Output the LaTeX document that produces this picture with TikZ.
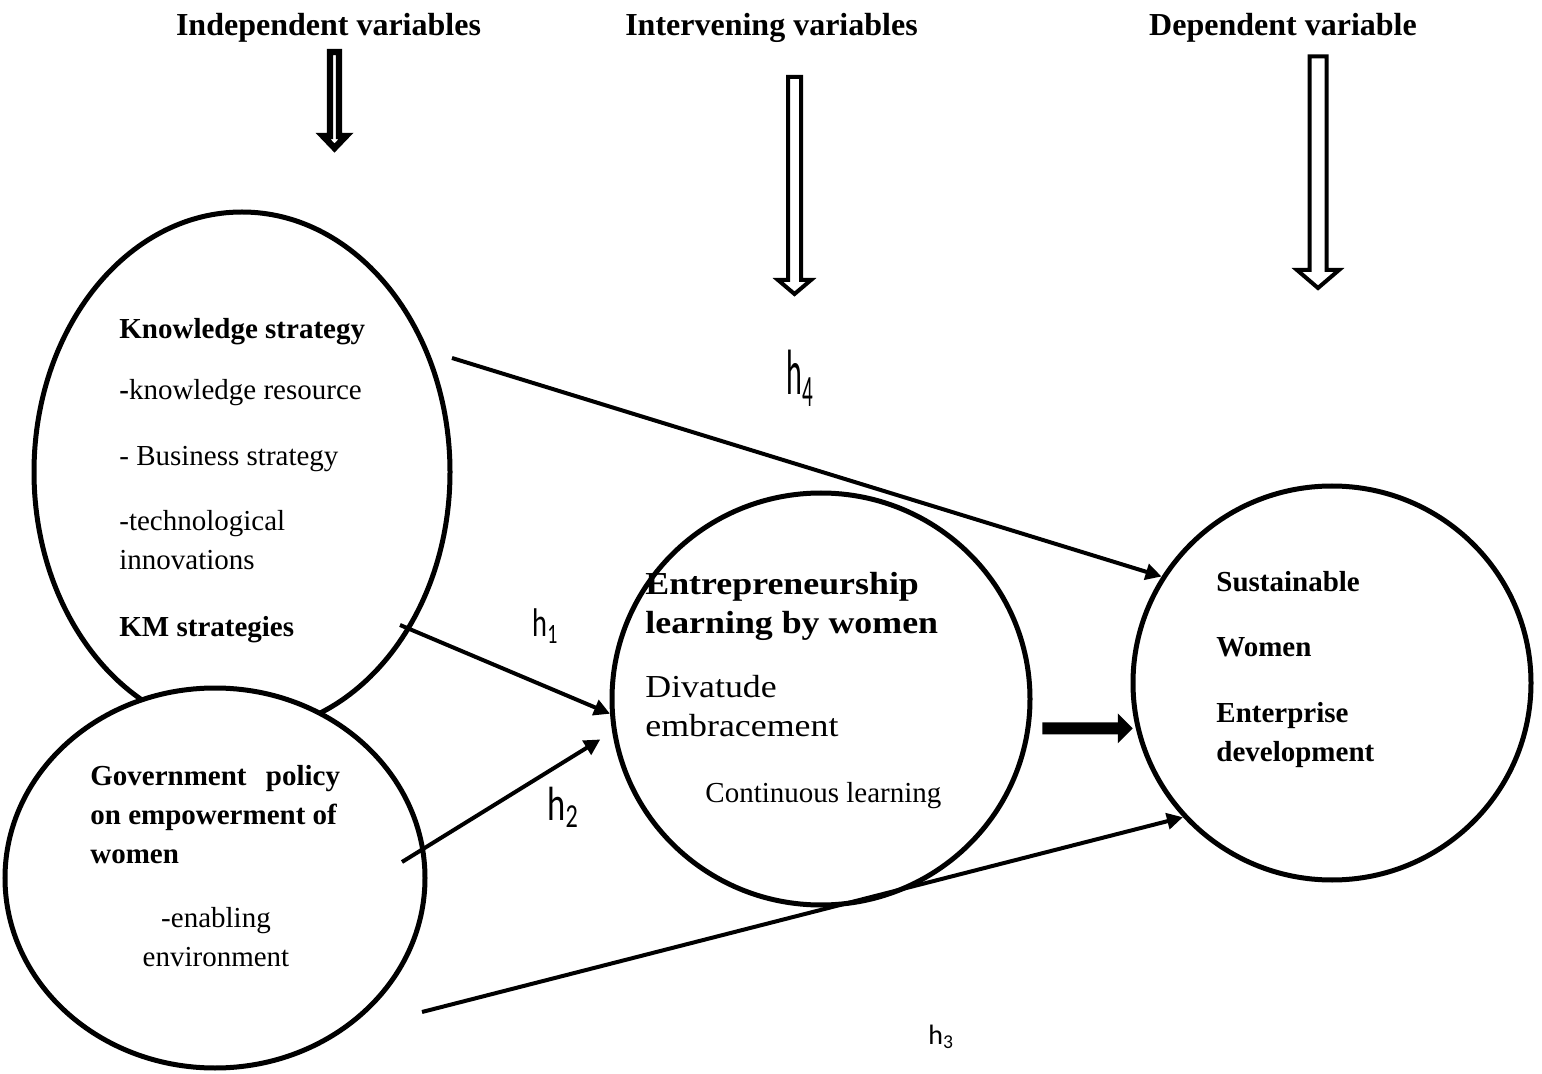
\documentclass[tikz,border=0pt]{standalone}
\usepackage{fontspec}
\setmainfont{Liberation Serif}
\newfontfamily\wideserif[FakeStretch=1.12]{Liberation Serif}
\newfontfamily\hfont{Carlito}
\usetikzlibrary{arrows.meta, shapes.geometric}

\begin{document}
\begin{tikzpicture}[x=0.5pt, y=-0.5pt,
  bubble/.style={ellipse, draw, line width=2.5pt, fill=white, inner sep=0pt},
  head/.style={font=\fontsize{16}{19}\selectfont\bfseries, anchor=base},
  body/.style={font=\fontsize{14.5}{19.5}\selectfont, inner sep=0pt},
  hollow/.style={draw, line width=2pt, fill=white},
  link/.style={line width=2pt, -{Triangle[length=8pt, width=8pt]}},
  hlab/.style={anchor=base west, inner sep=0pt}]
\useasboundingbox (0,0) rectangle (1542,1074);
% column headings
\node[head] (indep) at (328.5,36) {Independent variables};
\node[head] (interv) at (771.5,36) {Intervening variables};
\node[head] (dep) at (1283,36) {Dependent variable};
% hollow down arrows
\draw[hollow, line width=3.2pt] (330,52)--(339,52)--(339,136)--(346,136)--(334.5,148)--(323,136)--(330,136)--cycle;
\draw[hollow] (788,77)--(801,77)--(801,280)--(811,280)--(794.5,294)--(778,280)--(788,280)--cycle;
\draw[hollow] (1309.5,56.5)--(1326.5,56.5)--(1326.5,270)--(1339,270)--(1318,288)--(1297,270)--(1309.5,270)--cycle;
% the four bubbles
\node[bubble, minimum width=208pt, minimum height=260pt] (know) at (242,472) {};
\node[bubble, minimum width=210pt, minimum height=190pt] (gov) at (215,878) {};
\node[bubble, minimum width=209pt, minimum height=206pt] (entre) at (821,699) {};
\node[bubble, minimum width=199pt, minimum height=197pt] (sust) at (1332,683) {};
% bubble texts
\node[body, align=left, anchor=north west] (knowtext) at (119,318)
  {\textbf{Knowledge strategy}\\[11pt]
   \textbf{-}knowledge resource\\[13.5pt]
   - Business strategy\\[13pt]
   -technological\\
   innovations\\[14pt]
   \textbf{KM strategies}};
\node[body, align=left, anchor=north west, font=\fontsize{14.5}{19.5}\selectfont\bfseries] (govtext) at (90,765)
  {Government\hspace{6pt} policy\\
   on empowerment of\\
   women};
\node[body, align=center, anchor=north] (govitems) at (216,907)
  {-enabling\\ environment};
\node[body, align=left, anchor=north west, font=\wideserif\fontsize{16}{19.5}\selectfont] (entretext) at (645,572)
  {\textbf{Entrepreneurship}\\
   \textbf{learning by women}\\[12.5pt]
   Divatude\\
   embracement\\[13.5pt]
   \normalfont\fontsize{14.5}{19.5}\selectfont\hspace*{30pt}Continuous learning};
\node[body, align=left, anchor=north west, font=\fontsize{14.5}{19.5}\selectfont\bfseries] (susttext) at (1216,571)
  {Sustainable\\[13pt]
   Women\\[13.5pt]
   Enterprise\\
   development};
% hypothesis labels
\node[hlab, font=\hfont\fontsize{32}{32}\selectfont] (h4) at (786,395) {\scalebox{0.47}[1]{h\textsubscript{4}}};
\node[hlab, font=\hfont\fontsize{20}{20}\selectfont] (h1) at (532,637) {\scalebox{0.71}[1]{h\textsubscript{1}}};
\node[hlab, font=\hfont\fontsize{24}{24}\selectfont] (h2) at (547,820) {\scalebox{0.72}[1]{h\textsubscript{2}}};
\node[hlab, font=\hfont\fontsize{14}{14}\selectfont] (h3) at (928,1044) {h\textsubscript{3}};
% links
\coordinate (kstart) at (452,358);
\coordinate (kmstart) at (400,625);
\coordinate (gstart) at (402,862);
\coordinate (glow) at (422,1012);
\draw[link] (kstart) -- (sust.148);
\draw[link] (kmstart) -- (entre.184);
\draw[link, shorten >=7pt] (gstart) -- (entre.189);
\draw[link] (glow) -- (sust.222);
\draw[line width=6pt, -{Triangle[length=7.5pt, width=14.5pt]}] ([xshift=6pt]entre.352) -- ([xshift=-1.5pt]sust.193);
\end{tikzpicture}
\end{document}
